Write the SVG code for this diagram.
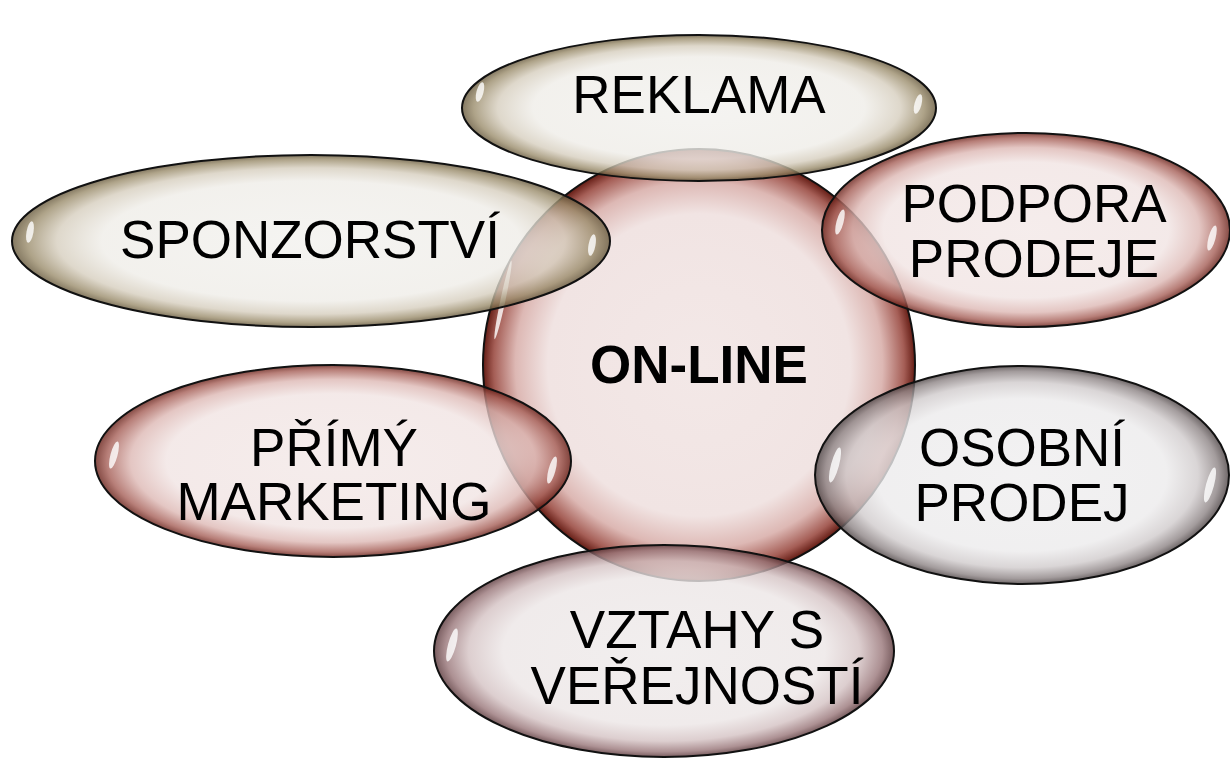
<svg xmlns="http://www.w3.org/2000/svg" width="1230" height="759" viewBox="0 0 1230 759">
<defs>
<radialGradient id="gTan" cx="0.5" cy="0.5" r="0.5">
<stop offset="0" stop-color="#f2f1ee"/>
<stop offset="0.7" stop-color="#efede8"/>
<stop offset="0.85" stop-color="#d6cebe"/>
<stop offset="0.95" stop-color="#9a8c6b"/>
<stop offset="1" stop-color="#65573a"/>
</radialGradient>
<radialGradient id="gRed" cx="0.5" cy="0.5" r="0.5">
<stop offset="0" stop-color="#f3e8e7"/>
<stop offset="0.7" stop-color="#f1e4e3"/>
<stop offset="0.85" stop-color="#ddb8b4"/>
<stop offset="0.95" stop-color="#a55e56"/>
<stop offset="1" stop-color="#651d15"/>
</radialGradient>
<radialGradient id="gGray" cx="0.5" cy="0.5" r="0.5">
<stop offset="0" stop-color="#efeeef"/>
<stop offset="0.7" stop-color="#ecebec"/>
<stop offset="0.85" stop-color="#d0cbcc"/>
<stop offset="0.95" stop-color="#8c8384"/>
<stop offset="1" stop-color="#4a4142"/>
</radialGradient>
<radialGradient id="gMauve" cx="0.5" cy="0.5" r="0.5">
<stop offset="0" stop-color="#eeeaea"/>
<stop offset="0.7" stop-color="#ece6e6"/>
<stop offset="0.85" stop-color="#d4c2c3"/>
<stop offset="0.95" stop-color="#987578"/>
<stop offset="1" stop-color="#583538"/>
</radialGradient>
<style>
.shape{stroke:#111;stroke-width:2}
.el{fill-opacity:0.8}
.hl{fill:#ffffff;fill-opacity:0.8}
.t{font-family:"Liberation Sans",Arial,sans-serif;font-size:53px;fill:#000;text-anchor:middle}
.b{font-weight:bold}
</style>
</defs>

<g id="node-online">
<circle class="shape" cx="699" cy="365" r="216" fill="url(#gRed)"/>
<ellipse class="hl" cx="503" cy="300" rx="2.5" ry="40" transform="rotate(12 503 300)"/>
<text class="t b" x="699" y="383">ON-LINE</text>
</g>

<g id="node-reklama">
<ellipse class="shape el" cx="699" cy="108" rx="237" ry="73" fill="url(#gTan)"/>
<ellipse class="hl" cx="480" cy="92" rx="3.5" ry="10" transform="rotate(15 480 92)"/>
<ellipse class="hl" cx="918" cy="104" rx="3.5" ry="10" transform="rotate(15 918 104)"/>
<text class="t" x="699" y="113">REKLAMA</text>
</g>

<g id="node-sponzorstvi">
<ellipse class="shape el" cx="311" cy="241" rx="299" ry="86" fill="url(#gTan)"/>
<ellipse class="hl" cx="30" cy="232" rx="3.5" ry="11" transform="rotate(10 30 232)"/>
<ellipse class="hl" cx="592" cy="245" rx="3.5" ry="11" transform="rotate(10 592 245)"/>
<text class="t" x="310" y="258">SPONZORSTVÍ</text>
</g>

<g id="node-podpora">
<ellipse class="shape el" cx="1026" cy="230" rx="204" ry="97" fill="url(#gRed)"/>
<ellipse class="hl" cx="840" cy="222" rx="3.5" ry="13" transform="rotate(15 840 222)"/>
<ellipse class="hl" cx="1212" cy="238" rx="3.5" ry="13" transform="rotate(15 1212 238)"/>
<text class="t" x="1034" y="222">PODPORA</text>
<text class="t" x="1034" y="277">PRODEJE</text>
</g>

<g id="node-primy">
<ellipse class="shape el" cx="333" cy="461" rx="238" ry="96" fill="url(#gRed)"/>
<ellipse class="hl" cx="114" cy="455" rx="3.5" ry="14" transform="rotate(15 114 455)"/>
<ellipse class="hl" cx="552" cy="470" rx="3.5" ry="14" transform="rotate(15 552 470)"/>
<text class="t" x="334" y="466">PŘÍMÝ</text>
<text class="t" x="334" y="520">MARKETING</text>
</g>

<g id="node-osobni">
<ellipse class="shape el" cx="1022" cy="475" rx="207" ry="109" fill="url(#gGray)"/>
<ellipse class="hl" cx="835" cy="465" rx="4" ry="18" transform="rotate(15 835 465)"/>
<ellipse class="hl" cx="1210" cy="485" rx="4" ry="18" transform="rotate(15 1210 485)"/>
<text class="t" x="1022" y="466">OSOBNÍ</text>
<text class="t" x="1022" y="521">PRODEJ</text>
</g>

<g id="node-vztahy">
<ellipse class="shape el" cx="664" cy="651" rx="230" ry="106" fill="url(#gMauve)"/>
<ellipse class="hl" cx="452" cy="645" rx="4" ry="17" transform="rotate(15 452 645)"/>
<text class="t" x="697" y="648">VZTAHY S</text>
<text class="t" x="697" y="704">VEŘEJNOSTÍ</text>
</g>

<g id="connectors"></g>
</svg>
